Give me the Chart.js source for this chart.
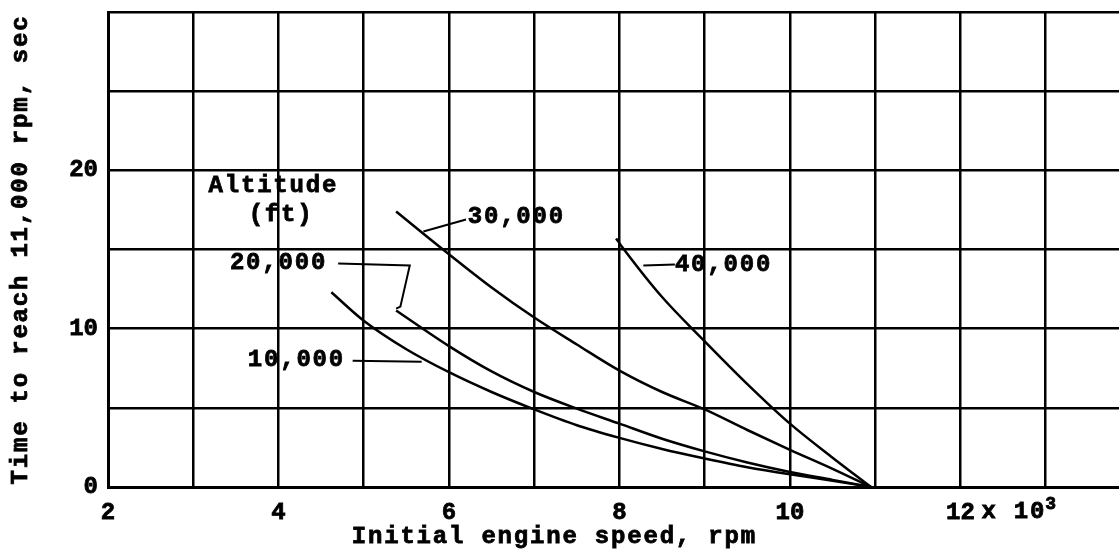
<!DOCTYPE html>
<html>
<head>
<meta charset="utf-8">
<script src="https://cdn.jsdelivr.net/npm/chart.js@4.4.0/dist/chart.umd.min.js"></script>
<style>
  body { margin: 0; background: #fff; }
  #chart { display: block; }
</style>
</head>
<body>
<canvas id="chart" width="1119" height="550"></canvas>
<script>
// initial engine speed (x 10^3 rpm) vs time to reach 11,000 rpm (sec)
const speed10k = [4.62, 5, 5.5, 6, 6.5, 7, 7.5, 8, 8.5, 9, 9.5, 10, 10.5, 10.95];
const time10k = [12.3, 10.5, 8.7, 7.25, 6.0, 4.9, 3.9, 3.1, 2.4, 1.8, 1.25, 0.8, 0.4, 0];

const speed20k = [5.38, 6, 6.5, 7, 7.5, 8, 8.5, 9, 9.5, 10, 10.5, 10.95];
const time20k = [11.15, 8.9, 7.3, 6.0, 4.95, 4.0, 3.05, 2.25, 1.55, 0.95, 0.45, 0];

const speed30k = [5.38, 5.93, 6.5, 7, 7.5, 8, 8.5, 9, 9.5, 10, 10.5, 10.95];
const time30k = [17.4, 15.0, 12.6, 10.7, 9.0, 7.35, 6.0, 4.9, 3.6, 2.35, 1.15, 0];

const speed40k = [7.96, 8.04, 8.5, 9, 9.5, 10, 10.5, 10.95];
const time40k = [15.7, 15.1, 12.0, 9.2, 6.5, 4.0, 1.85, 0];

const altitudes = ["10,000", "20,000", "30,000", "40,000"];
const xTickLabels = [2, 4, 6, 8, 10, 12];
const yTickLabels = [0, 10, 20];

const FONT = "'Liberation Mono', 'DejaVu Sans Mono', monospace";
const TEXT_FONT = "bold 24px " + FONT;

function toPoints(xs, ys) {
    return xs.map((x, i) => ({ x: x, y: ys[i] }));
}

function curve(label, xs, ys) {
    return {
        label: label,
        data: toPoints(xs, ys),
        showLine: true,
        borderColor: "#000",
        borderWidth: 2.5,
        pointRadius: 0,
        cubicInterpolationMode: "monotone",
        fill: false,
    };
}

// curve labels with their leader lines, in data units
const callouts = [
    { text: "Altitude", x: 3.94, y: 18.99, align: "center" },
    { text: "(ft)", x: 4.03, y: 17.2, align: "center" },
    { text: altitudes[2], x: 6.22, y: 17.03, leader: [[5.70, 16.14], [6.20, 16.9]] },
    { text: altitudes[1], x: 3.43, y: 14.18, leader: [[4.70, 14.11], [5.54, 13.99], [5.43, 11.39], [5.38, 11.27]] },
    { text: altitudes[0], x: 3.64, y: 8.04, leader: [[4.87, 7.97], [5.68, 7.91]] },
    { text: altitudes[3], x: 8.65, y: 14.05, leader: [[8.28, 13.99], [8.65, 14.05]] },
];

// fill plus a thin stroke, to get the heavy typewriter look
function typeText(ctx, s, x, y) {
    ctx.fillText(s, x, y);
    ctx.strokeText(s, x, y);
}

const typedText = {
    id: "typedText",
    afterDraw(chart) {
        const ctx = chart.ctx;
        const xs = chart.scales.x, ys = chart.scales.y;
        const px = (v) => xs.getPixelForValue(v);
        const py = (v) => ys.getPixelForValue(v);
        const area = chart.chartArea;
        ctx.save();
        ctx.fillStyle = "#000";
        ctx.strokeStyle = "#000";
        ctx.letterSpacing = "1.8px";
        ctx.font = TEXT_FONT;
        ctx.textBaseline = "middle";

        callouts.forEach((c) => {
            ctx.textAlign = c.align || "left";
            ctx.lineWidth = 0.8;
            typeText(ctx, c.text, px(c.x), py(c.y));
            if (c.leader) {
                ctx.lineWidth = 2;
                ctx.beginPath();
                c.leader.forEach(([a, b], i) => {
                    if (i === 0) ctx.moveTo(px(a), py(b));
                    else ctx.lineTo(px(a), py(b));
                });
                ctx.stroke();
            }
        });

        // multiplier after the 12 tick
        ctx.lineWidth = 0.8;
        const tickY = area.bottom + 25;
        ctx.textAlign = "left";
        typeText(ctx, "x 10", px(12) + 21, tickY);
        ctx.font = "bold 18px " + FONT;
        typeText(ctx, "3", px(12) + 21 + 4 * 16.2 - 1, tickY - 8);

        // axis titles
        ctx.font = TEXT_FONT;
        ctx.textAlign = "left";
        typeText(ctx, "Initial engine speed, rpm", px(4.86), 537);

        ctx.translate(21, (area.top + area.bottom) / 2);
        ctx.rotate(-Math.PI / 2);
        ctx.textAlign = "center";
        typeText(ctx, "Time to reach 11,000 rpm, sec", 0, 0);
        ctx.restore();
    },
};

const tickFont = { family: FONT, size: 24, weight: "bold" };

new Chart(document.getElementById("chart"), {
    type: "scatter",
    data: {
        datasets: [
            curve(altitudes[0], speed10k, time10k),
            curve(altitudes[1], speed20k, time20k),
            curve(altitudes[2], speed30k, time30k),
            curve(altitudes[3], speed40k, time40k),
        ],
    },
    options: {
        responsive: false,
        animation: false,
        layout: { padding: { top: 12, left: 0, right: 0, bottom: 0 } },
        plugins: { legend: { display: false }, tooltip: { enabled: false } },
        scales: {
            x: {
                type: "linear",
                min: 2,
                max: 13.86,
                afterFit: (s) => {
                    s.height = 63;
                    s.paddingLeft = 0;
                    s.paddingRight = 0;
                },
                grid: { color: "#000", lineWidth: 2.5, drawTicks: false },
                border: { display: true, color: "#000", width: 3 },
                ticks: {
                    stepSize: 1,
                    includeBounds: false,
                    autoSkip: false,
                    maxRotation: 0,
                    padding: 12,
                    color: "#000",
                    textStrokeColor: "#000",
                    textStrokeWidth: 0.8,
                    font: tickFont,
                    callback: (v) => (xTickLabels.includes(v) ? String(v) : ""),
                },
            },
            y: {
                min: 0,
                max: 30,
                afterFit: (s) => {
                    s.width = 108;
                    s.paddingTop = 0;
                    s.paddingBottom = 0;
                },
                grid: { color: "#000", lineWidth: 2.5, drawTicks: false },
                border: { display: true, color: "#000", width: 3 },
                ticks: {
                    stepSize: 5,
                    autoSkip: false,
                    padding: 10,
                    color: "#000",
                    textStrokeColor: "#000",
                    textStrokeWidth: 0.8,
                    font: tickFont,
                    callback: (v) => (yTickLabels.includes(v) ? String(v) : ""),
                },
            },
        },
    },
    plugins: [typedText],
});
</script>
</body>
</html>
